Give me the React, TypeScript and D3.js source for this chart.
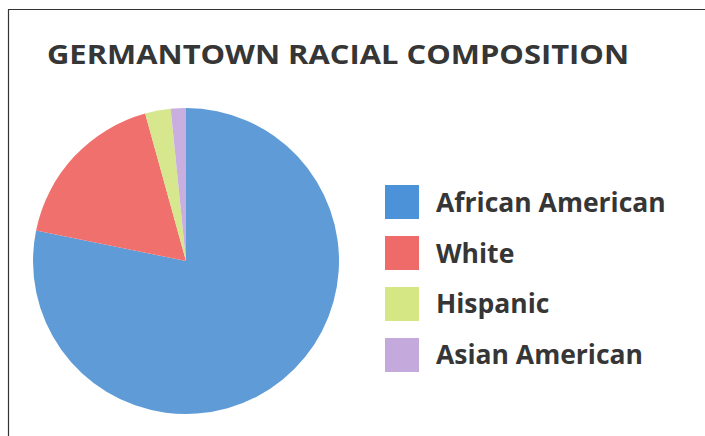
import React from "react";
import * as d3 from "d3";

const title = "GERMANTOWN RACIAL COMPOSITION";
const categories = ["African American", "White", "Hispanic", "Asian American"];
const values = [78.2, 17.5, 2.7, 1.6];
const sliceColors = ["#5f9bd6", "#ef706d", "#d6e78d", "#c8afdf"];
const swatchColors = ["#4c92d8", "#ef6b69", "#d5e684", "#c4aadc"];

export default function App() {
  const width = 705;
  const height = 436;
  const cx = 186;
  const cy = 261;
  const r = 153;

  const data = categories.map((c, i) => ({ name: c, value: values[i], color: sliceColors[i], swatch: swatchColors[i] }));
  const pie = d3.pie<any>().sort(null).value((d: any) => d.value).startAngle(0).endAngle(2 * Math.PI);
  const arc = d3.arc<any>().innerRadius(0).outerRadius(r);
  const arcs = pie(data);

  const legendY = d3.scaleBand<string>().domain(categories).range([185, 372]).paddingInner(0.333).paddingOuter(0);

  return (
    <svg width={width} height={height} style={{ position: "absolute", left: 0, top: 0, background: "#fff" }}>
      <rect x={0} y={0} width={width} height={height} fill="#fff" />
      <line x1={8.5} y1={9.5} x2={8.5} y2={height} stroke="#333" strokeWidth={1.2} />
      <line x1={8} y1={9.5} x2={width} y2={9.5} stroke="#333" strokeWidth={1.2} />
      <text
        x={47}
        y={64}
        fontFamily="'Open Sans', sans-serif"
        fontWeight={700}
        fontSize={27}
        fill="#363636"
        textLength={582}
        lengthAdjust="spacingAndGlyphs"
      >
        {title}
      </text>
      <g transform={`translate(${cx},${cy})`}>
        {arcs.map((a, i) => (
          <path key={i} d={arc(a) as string} fill={a.data.color} />
        ))}
      </g>
      <g>
        {data.map((d, i) => {
          const y = legendY(d.name) as number;
          const bw = legendY.bandwidth();
          return (
            <g key={d.name}>
              <rect x={385} y={y} width={34} height={bw} fill={d.swatch} />
              <text
                x={436}
                y={y + bw / 2 + 9.5}
                fontFamily="'Open Sans', sans-serif"
                fontWeight={700}
                fontSize={26.5}
                fill="#363636"
              >
                {d.name}
              </text>
            </g>
          );
        })}
      </g>
    </svg>
  );
}
